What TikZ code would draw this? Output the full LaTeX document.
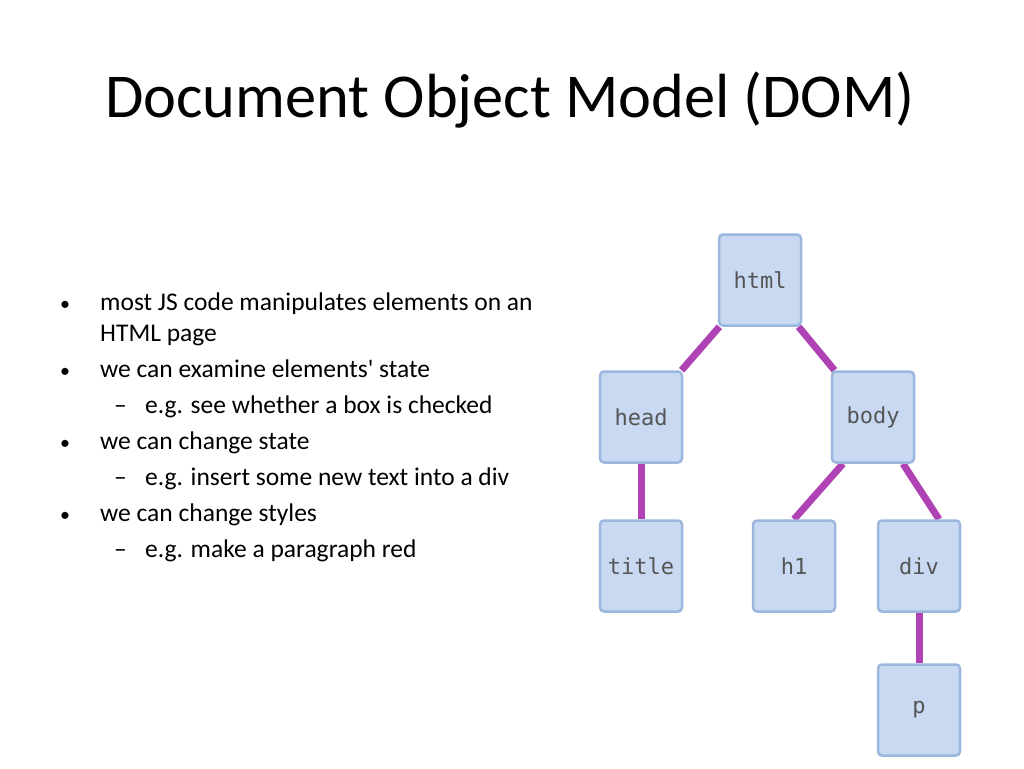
\documentclass[tikz,border=0pt]{standalone}
\usepackage{fontspec}
\setmainfont{Carlito}
\setmonofont{DejaVu Sans Mono}
\usetikzlibrary{backgrounds}
\definecolor{boxfill}{HTML}{C8D9F1}
\definecolor{boxline}{HTML}{9BB7DD}
\definecolor{edge}{HTML}{B043B4}
\definecolor{mono}{HTML}{555555}
\begin{document}
\begin{tikzpicture}[x=1pt,y=-1pt,
  box/.style={draw=boxline,line width=2.5pt,fill=boxfill,rounded corners=4pt,minimum width=82pt,minimum height=91pt,inner sep=0pt,font=\ttfamily\fontsize{22}{26}\selectfont,text=mono},
  con/.style={draw=edge,line width=7pt},
  txt/.style={anchor=base west,inner sep=0pt,font=\fontsize{25.5}{30}\selectfont}]
\useasboundingbox (0,0) rectangle (1024,768);
\node[font=\fontsize{62.4}{70}\selectfont,inner sep=0pt] (t) at (510,100) {Document Object Model (DOM)};
\node[box] (html) at (760,280) {html};
\node[box] (head) at (641,417) {head};
\node[box] (body) at (873,417) {body};
\node[box] (title) at (641,566) {title};
\node[box] (h1) at (794,566) {h1};
\node[box] (div) at (919,566) {div};
\node[box] (p) at (919,710) {p};
\begin{scope}[on background layer]
\draw[con] (html) -- (head);
\draw[con] (html) -- (body);
\draw[con] (head) -- (title);
\draw[con] (body.south) ++(-30,0) coordinate (b1) -- (h1.north);
\draw[con] (body.south) ++(30,0) coordinate (b2) -- ([xshift=20pt]div.north);
\draw[con] (div) -- (p);
\end{scope}
\foreach \y/\n in {310/a,377/b,449/c,521/d}{\node[txt,font=\fontsize{20}{24}\selectfont] (bul\n) at (60,\y) {•};}
\node[txt] (l1) at (100,310) {most JS code manipulates elements on an};
\node[txt] (l2) at (100,341) {HTML page};
\node[txt] (l3) at (100,377) {we can examine elements\textquotesingle\ state};
\node[txt] (d1) at (114,413) {–};
\node[txt] (l4) at (145,413) {e.g. see whether a box is checked};
\node[txt] (l5) at (100,449) {we can change state};
\node[txt] (d2) at (114,485) {–};
\node[txt] (l6) at (145,485) {e.g. insert some new text into a div};
\node[txt] (l7) at (100,521) {we can change styles};
\node[txt] (d3) at (114,557) {–};
\node[txt] (l8) at (145,557) {e.g. make a paragraph red};
\end{tikzpicture}
\end{document}
